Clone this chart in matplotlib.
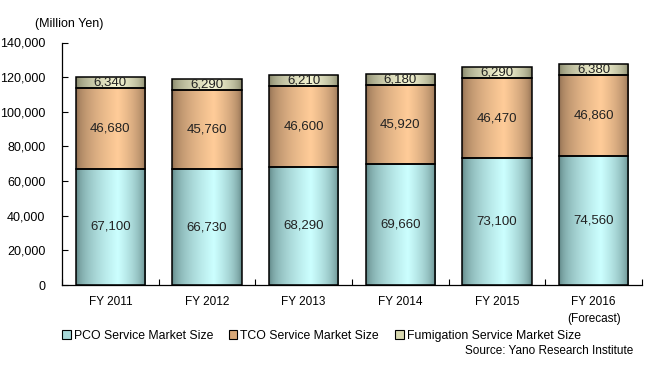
import numpy as np
import matplotlib
matplotlib.use("Agg")
import matplotlib.pyplot as plt
from matplotlib.colors import to_rgb
from matplotlib.patches import Patch
from matplotlib.ticker import FuncFormatter, FixedLocator

plt.rcParams['font.family'] = ['Liberation Sans', 'DejaVu Sans']
plt.rcParams['font.size'] = 8.5

# Data
years = ['FY 2011', 'FY 2012', 'FY 2013', 'FY 2014', 'FY 2015', 'FY 2016\n(Forecast)']
pco = [67100, 66730, 68290, 69660, 73100, 74560]
tco = [46680, 45760, 46600, 45920, 46470, 46860]
fum = [6340, 6290, 6210, 6180, 6290, 6380]
series_names = ['PCO Service Market Size', 'TCO Service Market Size',
                'Fumigation Service Market Size']

# (edge colour, centre colour) for the horizontal gradient fill
shades = [('#5a8080', '#ccffff'), ('#8a6a4e', '#ffcc99'), ('#7e7e62', '#f4f4d2')]


def gradient_img(edge, centre, n=64, peak=0.6):
    t = np.linspace(0, 1, n)
    w = np.where(t < peak, t / peak, (1 - t) / (1 - peak))
    w = w ** 0.5
    e, c = np.array(to_rgb(edge)), np.array(to_rgb(centre))
    row = e + (c - e) * w[:, None]
    return row[None, :, :]


fig = plt.figure(figsize=(6.47, 3.65), dpi=100)
ax = fig.add_axes([62 / 647, 1 - 285 / 365, 580 / 647, 242.5 / 365])

x = np.arange(len(years))
width = 0.72
bottom = np.zeros(len(years))
for vals, (edge, centre), name in zip([pco, tco, fum], shades, series_names):
    bars = ax.bar(x, vals, width, bottom=bottom, color='none', edgecolor='black',
                  linewidth=1.1, zorder=3, label=name)
    img = gradient_img(edge, centre)
    for b, v, b0 in zip(bars, vals, bottom):
        x0 = b.get_x()
        im = ax.imshow(img, extent=(x0, x0 + b.get_width(), b0, b0 + v),
                       aspect='auto', zorder=2, interpolation='bilinear')
        im.set_clip_path(b)
        ax.text(b.get_x() + b.get_width() / 2, b0 + v / 2, f'{v:,}',
                ha='center', va='center', fontsize=9.5, color='#222222', zorder=4)
    bottom = bottom + np.array(vals)

ax.set_xlim(-0.5, len(years) - 0.5)
ax.set_ylim(0, 140000)
ax.set_yticks(np.arange(0, 140001, 20000))
ax.yaxis.set_major_formatter(FuncFormatter(lambda v, p: f'{int(v):,}'))
ax.set_xticks(x)
ax.set_xticklabels(years, linespacing=1.5)
ax.xaxis.set_minor_locator(FixedLocator(np.arange(-0.5, len(years), 1.0)))
ax.tick_params(axis='x', which='major', length=0, pad=8, labelsize=8.5)
ax.tick_params(axis='x', which='minor', direction='in', length=4, width=0.8)
ax.tick_params(axis='y', direction='in', length=4, width=0.8, pad=12, labelsize=9)
ax.spines['top'].set_visible(False)
ax.spines['right'].set_visible(False)
ax.spines['left'].set_linewidth(0.9)
ax.spines['bottom'].set_linewidth(0.9)

fig.text(35 / 647, 1 - 24 / 365, '(Million Yen)', ha='left', va='center', fontsize=9)

handles = [Patch(facecolor=c, edgecolor='black', linewidth=0.8) for c in
           ['#a8d8d8', '#d8a878', '#d8d8b0']]
fig.legend(handles, series_names, loc='center left', bbox_to_anchor=(62 / 647, 1 - 336 / 365),
           ncol=3, frameon=False, handlelength=0.7, handleheight=0.7, handletextpad=0.25,
           columnspacing=1.3, fontsize=8.8, borderaxespad=0, borderpad=0)

fig.text(633 / 647, 1 - 351 / 365, 'Source: Yano Research Institute', ha='right',
         va='center', fontsize=8.5)

fig.savefig('out.png', dpi=100)
